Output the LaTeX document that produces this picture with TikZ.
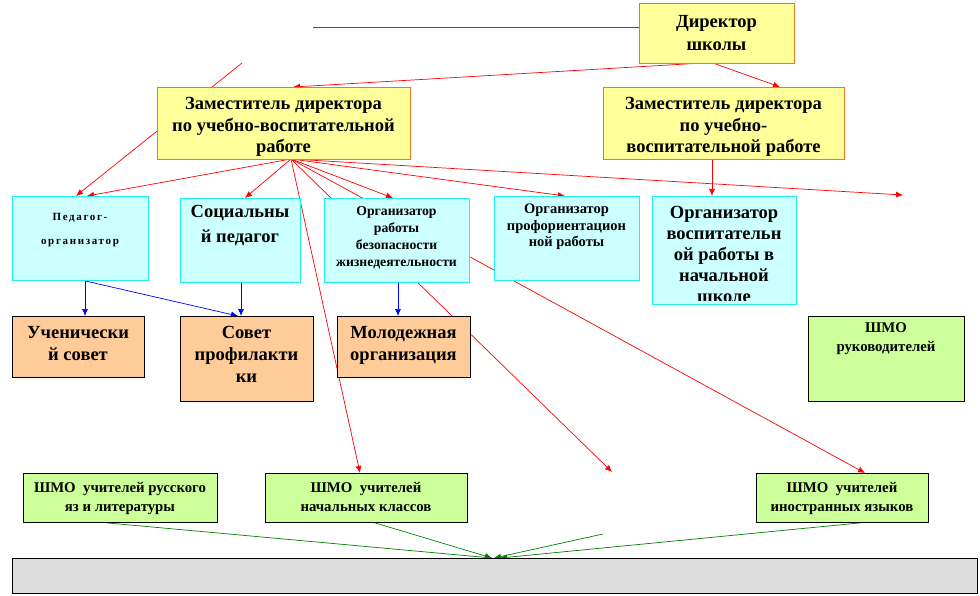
\documentclass[tikz,border=0pt]{standalone}
\usepackage{fontspec}
\setmainfont{Liberation Serif}[BoldFont={Liberation Serif Bold}]
\usetikzlibrary{arrows.meta,backgrounds}
\definecolor{yelf}{HTML}{FFFF99}
\definecolor{yelb}{HTML}{F07820}
\definecolor{cyf}{HTML}{CCFFFF}
\definecolor{cyb}{HTML}{22EEEE}
\definecolor{orf}{HTML}{FFCC99}
\definecolor{grf}{HTML}{CCFF99}
\definecolor{gyf}{HTML}{DDDDDD}
\definecolor{arrgreen}{HTML}{008000}
\tikzset{
  boxbase/.style={anchor=north west, inner sep=0pt, line width=0.9pt},
  ybox/.style={boxbase, fill=yelf, draw=yelb},
  cbox/.style={boxbase, fill=cyf, draw=cyb},
  obox/.style={boxbase, fill=orf, draw=black},
  gbox/.style={boxbase, fill=grf, draw=black},
  graybox/.style={boxbase, fill=gyf, draw=black},
  txt/.style={anchor=base, align=center, inner sep=0pt},
  redarr/.style={draw=red, line width=0.7pt, -{Latex[length=7pt,width=6pt]}},
  redline/.style={draw=red, line width=0.7pt},
  bluearr/.style={draw=blue, line width=0.7pt, -{Latex[length=7pt,width=6pt]}},
  greenarr/.style={draw=arrgreen, line width=0.7pt, -{Latex[length=7pt,width=6pt]}},
}
\newcommand{\fbig}[1]{\fontsize{18.5}{#1}\selectfont\bfseries}
\newcommand{\fsmall}[1]{\fontsize{13.7}{#1}\selectfont\bfseries}
\newcommand{\fgreen}[1]{\fontsize{14.8}{#1}\selectfont\bfseries}
\begin{document}
\begin{tikzpicture}[x=1pt,y=-1pt]
\useasboundingbox (0,0) rectangle (980,596);
% boxes
\node[ybox, minimum width=155pt, minimum height=60pt] (dir) at (639,3) {};
\node[ybox, minimum width=253pt, minimum height=72pt] (dep1) at (157,87) {};
\node[ybox, minimum width=241pt, minimum height=72pt] (dep2) at (603,87) {};
\node[cbox, minimum width=136pt, minimum height=84pt] (pedorg) at (12,196) {};
\node[cbox, minimum width=120pt, minimum height=84pt] (soc) at (180,198) {};
\node[cbox, minimum width=145pt, minimum height=84pt] (bez) at (324,198) {};
\node[cbox, minimum width=145pt, minimum height=84pt] (prof) at (494,196) {};
\node[cbox, minimum width=144pt, minimum height=108pt] (vosp) at (652,196) {};
\node[obox, minimum width=132pt, minimum height=61pt] (uch) at (12,316) {};
\node[obox, minimum width=133pt, minimum height=85pt] (sov) at (180,316) {};
\node[obox, minimum width=133pt, minimum height=61pt] (mol) at (337,316) {};
\node[gbox, minimum width=156pt, minimum height=85pt] (shmoruk) at (808,316) {};
\node[gbox, minimum width=194pt, minimum height=49pt] (shmor) at (23,473) {};
\node[gbox, minimum width=202pt, minimum height=49pt] (shmon) at (265,473) {};
\node[gbox, minimum width=172pt, minimum height=49pt] (shmoi) at (756,473) {};
\node[graybox, minimum width=965pt, minimum height=35pt] (gray) at (12,558) {};
% texts (anchor = baseline of the last line)
\node[txt, font=\fbig{23}] (tdir) at (716.5,51) {Директор\\школы};
\node[txt, font=\fbig{21.5}] (tdep1) at (283.5,153) {Заместитель директора\\по учебно-воспитательной\\работе};
\node[txt, font=\fbig{21.5}] (tdep2) at (723.5,153) {Заместитель директора\\по учебно-\\воспитательной работе};
\node[txt, font=\fontsize{11}{24}\selectfont\bfseries\addfontfeature{LetterSpace=15}] (tpedorg) at (80,244) {Педагог-\\организатор};
\node[txt, font=\fbig{25}] (tsoc) at (240,243) {Социальны\\й педагог};
\node[txt, font=\fsmall{16.7}] (tbez) at (396.5,266) {Организатор\\работы\\безопасности\\жизнедеятельности};
\node[txt, font=\fontsize{14.5}{16.5}\selectfont\bfseries] (tprof) at (566.5,247) {Организатор\\профориентацион\\ной работы};
\begin{scope}
\clip (652,196) rectangle (796,300.5);
\node[txt, font=\fbig{21}] (tvosp) at (724,302) {Организатор\\воспитательн\\ой работы в\\начальной\\школе};
\end{scope}
\node[txt, font=\fbig{22}] (tuch) at (78,360) {Ученически\\й совет};
\node[txt, font=\fbig{22}] (tsov) at (246.5,382) {Совет\\профилакти\\ки};
\node[txt, font=\fbig{22}] (tmol) at (403.5,360) {Молодежная\\организация};
\node[txt, font=\fgreen{19}] (truk) at (886,351) {ШМО\\руководителей};
\node[txt, font=\fgreen{19}] (trus) at (120,511) {ШМО\ \ учителей русского\\яз и литературы};
\node[txt, font=\fgreen{19}] (tnach) at (366,511) {ШМО\ \ учителей\\начальных классов};
\node[txt, font=\fgreen{19}] (tin) at (842,511) {ШМО\ \ учителей\\иностранных языков};
% free coordinates
\coordinate (hl) at (313,27);
\coordinate (d1) at (703,63);
\coordinate (d2) at (713,63);
\coordinate (fan) at (291,159);
\coordinate (lstart) at (242,63);
\coordinate (free1) at (612,472);
\coordinate (free2) at (903,195);
\coordinate (gstart) at (603,534);
% connectors
\begin{scope}[on background layer]
\draw[redline] (hl) -- (hl -| dir.west);
\draw[redarr] (d1) -- (293,0 |- dep1.north);
\draw[redarr] (d2) -- (780,0 |- dep2.north);
\draw[redarr] (lstart) -- (76,0 |- pedorg.north);
\draw[redarr] (fan) -- (87,0 |- pedorg.north);
\draw[redarr] (fan) -- (245,0 |- soc.north);
\draw[redarr] (fan) -- (360,0 |- shmon.north);
\draw[redarr] (fan) -- (free1);
\draw[redarr] (fan) -- (865,0 |- shmoi.north);
\draw[redarr] (fan) -- (393,0 |- bez.north);
\draw[redarr] (fan) -- (565,0 |- prof.north);
\draw[redarr] (fan) -- (free2);
\draw[redarr] (712,0 |- dep2.south) -- (712,0 |- vosp.north);
\draw[bluearr] (85,0 |- pedorg.south) -- (85,0 |- uch.north);
\draw[bluearr] (85,0 |- pedorg.south) -- (238,0 |- sov.north);
\draw[bluearr] (241,0 |- soc.south) -- (241,0 |- sov.north);
\draw[bluearr] (398,0 |- bez.south) -- (398,0 |- mol.north);
\draw[greenarr] (107,0 |- shmor.south) -- (492,0 |- gray.north);
\draw[greenarr] (375,0 |- shmon.south) -- (492,0 |- gray.north);
\draw[greenarr] (gstart) -- (494,0 |- gray.north);
\draw[greenarr] (860,0 |- shmoi.south) -- (500,0 |- gray.north);
\end{scope}
\end{tikzpicture}
\end{document}
